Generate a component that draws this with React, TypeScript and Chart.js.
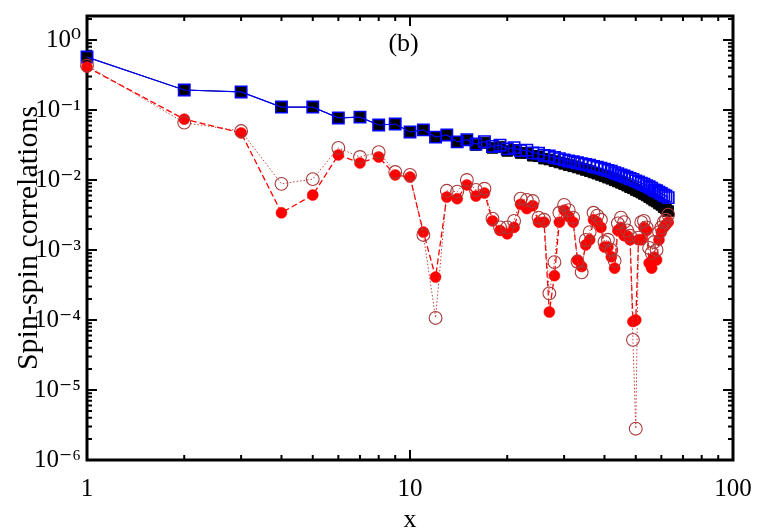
import React, { useEffect, useRef } from 'react';
import { Chart, registerables } from 'chart.js';

Chart.register(...registerables);

// distance x
const X = [1, 2, 3, 4, 5, 6, 7, 8, 9, 10, 11, 12, 13, 14, 15, 16, 17, 18, 19, 20,
  21, 22, 23, 24, 25, 26, 27, 28, 29, 30, 31, 32, 33, 34, 35, 36, 37, 38, 39, 40,
  41, 42, 43, 44, 45, 46, 47, 48, 49, 50, 51, 52, 53, 54, 55, 56, 57, 58, 59, 60,
  61, 62, 63];

// open blue squares
const BLUE_OPEN = [0.57, 0.193, 0.181, 0.110, 0.110, 0.077, 0.079, 0.061, 0.063, 0.0485,
  0.052, 0.041, 0.044, 0.035, 0.0376, 0.0326, 0.0352, 0.0301, 0.0314, 0.0278,
  0.0290, 0.0263, 0.0267, 0.0244, 0.0241, 0.0224, 0.0220, 0.0209, 0.0202, 0.0194,
  0.0187, 0.0182, 0.0176, 0.0171, 0.0167, 0.0162, 0.0156, 0.0152, 0.0147, 0.0142,
  0.0137, 0.0133, 0.0127, 0.0123, 0.0118, 0.0114, 0.0110, 0.0105, 0.0102, 0.0097,
  0.0094, 0.0090, 0.0087, 0.0083, 0.0080, 0.0076, 0.0072, 0.0070, 0.0067, 0.0064,
  0.0061, 0.0059, 0.0056];

// filled black squares
const BLACK_FILLED = [0.57, 0.193, 0.181, 0.110, 0.110, 0.077, 0.079, 0.061, 0.063, 0.0485,
  0.052, 0.041, 0.044, 0.035, 0.037, 0.0316, 0.0338, 0.0287, 0.0296, 0.026,
  0.027, 0.0243, 0.0245, 0.0222, 0.0218, 0.0202, 0.0196, 0.0186, 0.0178, 0.0170,
  0.0163, 0.0157, 0.0151, 0.0145, 0.0139, 0.0134, 0.0128, 0.0123, 0.0118, 0.0113,
  0.0108, 0.0104, 0.0099, 0.0095, 0.0091, 0.0087, 0.0083, 0.0079, 0.0076, 0.0072,
  0.0069, 0.0066, 0.0063, 0.0060, 0.0057, 0.0054, 0.0051, 0.0049, 0.0046, 0.0044,
  0.0041, 0.0039, 0.0036];

// filled red circles
const RED_FILLED = [0.41, 0.074, 0.047, 0.0034, 0.0061, 0.0228, 0.0175, 0.0213, 0.0118, 0.0110,
  0.0018, 0.00041, 0.0057, 0.0054, 0.0085, 0.0059, 0.0065, 0.0026, 0.0019, 0.0017,
  0.0021, 0.0045, 0.0039, 0.0043, 0.0025, 0.0025, 0.00013, 0.00043, 0.0025, 0.0037,
  0.0030, 0.0025, 0.00072, 0.00058, 0.00118, 0.0014, 0.0027, 0.0025, 0.0021, 0.0011,
  0.0011, 0.0008, 0.00055, 0.0019, 0.0021, 0.0016, 0.0016, 0.0014, 0.000095, 0.00010,
  0.0014, 0.0014, 0.0021, 0.0019, 0.00065, 0.00055, 0.00079, 0.00072, 0.0014, 0.0018,
  0.0021, 0.0023, 0.0025];

// open red circles
const RED_OPEN = [0.43, 0.066, 0.050, 0.0088, 0.0103, 0.0287, 0.0213, 0.025, 0.0130, 0.0118,
  0.00164, 0.000107, 0.0070, 0.0068, 0.010, 0.0072, 0.0075, 0.0028, 0.0021, 0.0021,
  0.0026, 0.0054, 0.0052, 0.0050, 0.0029, 0.0027, 0.00024, 0.00067, 0.0034, 0.0044,
  0.0037, 0.0029, 0.00068, 0.00048, 0.00139, 0.0018, 0.0034, 0.0031, 0.0027, 0.0013,
  0.0014, 0.0010, 0.0007, 0.0024, 0.0029, 0.0025, 0.0019, 0.0016, 0.000052, 0.0000028,
  0.0015, 0.0025, 0.0026, 0.0021, 0.00107, 0.00091, 0.0013, 0.0010, 0.0018, 0.0021,
  0.0025, 0.0027, 0.0032];

const X_TICK_VALUES = [1, 10, 100];
const X_TICK_LABELS = ['1', '10', '100'];
const Y_TICK_VALUES = [1e-6, 1e-5, 1e-4, 1e-3, 1e-2, 1e-1, 1];
const Y_TICK_LABELS = ['10⁻⁶', '10⁻⁵', '10⁻⁴', '10⁻³', '10⁻²', '10⁻¹', '10⁰'];

const X_MIN = 1;
const X_MAX = 100;
const Y_MIN = 1e-6;
const Y_MAX = 2.2;

const FONT = '"Liberation Serif", "Times New Roman", "DejaVu Serif", serif';

function matchLabel(v: number, values: number[], labels: string[]): string {
  for (let i = 0; i < values.length; i++) {
    if (Math.abs(v - values[i]) / values[i] < 1e-6) return labels[i];
  }
  return '';
}

const frameTicksPlugin = {
  id: 'frameTicks',
  beforeDatasetsDraw(chart: any) {
    const { ctx, chartArea: a, scales } = chart;
    const xs = scales.x;
    const ys = scales.y;
    ctx.save();
    ctx.strokeStyle = '#000';
    ctx.lineWidth = 2;
    ctx.beginPath();
    for (let d = 1; d < X_MAX; d *= 10) {
      for (let m = 1; m < 10; m++) {
        const v = d * m;
        if (v <= X_MIN || v >= X_MAX) continue;
        const px = xs.getPixelForValue(v);
        const len = m === 1 ? 10 : 5;
        ctx.moveTo(px, a.bottom);
        ctx.lineTo(px, a.bottom - len);
        ctx.moveTo(px, a.top);
        ctx.lineTo(px, a.top + len);
      }
    }
    for (let e = -6; e <= 0; e++) {
      for (let m = 1; m < 10; m++) {
        const v = m * Math.pow(10, e);
        if (v <= Y_MIN * 1.0000001 || v >= Y_MAX) continue;
        const py = ys.getPixelForValue(v);
        const len = m === 1 ? 10 : 5;
        ctx.moveTo(a.left, py);
        ctx.lineTo(a.left + len, py);
        ctx.moveTo(a.right, py);
        ctx.lineTo(a.right - len, py);
      }
    }
    ctx.stroke();
    ctx.lineWidth = 3;
    ctx.strokeRect(a.left, a.top, a.right - a.left, a.bottom - a.top);
    ctx.fillStyle = '#000';
    ctx.font = `26px ${FONT}`;
    ctx.textAlign = 'center';
    ctx.textBaseline = 'middle';
    ctx.fillText('(b)', a.left + (a.right - a.left) * 0.49, a.top + 28);
    ctx.restore();
  },
};

export default function App() {
  const canvasRef = useRef<HTMLCanvasElement | null>(null);

  useEffect(() => {
    const canvas = canvasRef.current;
    if (!canvas) return;
    const pts = (arr: number[]) => X.map((x, i) => ({ x, y: arr[i] }));
    const chart = new Chart(canvas, {
      type: 'line',
      data: {
        datasets: [
          {
            label: 'black filled',
            data: pts(BLACK_FILLED),
            borderColor: '#000000',
            borderWidth: 1,
            pointStyle: 'rect',
            pointRadius: 7.5,
            pointBackgroundColor: '#000000',
            pointBorderColor: '#000000',
            pointBorderWidth: 1,
            tension: 0,
            fill: false,
            clip: false,
            order: 4,
          } as any,
          {
            label: 'blue open',
            data: pts(BLUE_OPEN),
            borderColor: '#0000ff',
            borderWidth: 1.2,
            pointStyle: 'rect',
            pointRadius: 8,
            pointBackgroundColor: 'rgba(0,0,0,0)',
            pointBorderColor: '#0000ff',
            pointBorderWidth: 1.6,
            tension: 0,
            fill: false,
            clip: false,
            order: 3,
          } as any,
          {
            label: 'red filled',
            data: pts(RED_FILLED),
            borderColor: '#ff0000',
            borderWidth: 1.3,
            borderDash: [6, 3],
            pointStyle: 'circle',
            pointRadius: 5.5,
            pointBackgroundColor: '#ff0000',
            pointBorderColor: '#ff0000',
            pointBorderWidth: 0.5,
            tension: 0,
            fill: false,
            clip: false,
            order: 2,
          } as any,
          {
            label: 'red open',
            data: pts(RED_OPEN),
            borderColor: '#c04040',
            borderWidth: 1,
            borderDash: [1.5, 2],
            pointStyle: 'circle',
            pointRadius: 6.4,
            pointBackgroundColor: 'rgba(0,0,0,0)',
            pointBorderColor: '#a83a3a',
            pointBorderWidth: 1.1,
            tension: 0,
            fill: false,
            clip: false,
            order: 1,
          } as any,
        ],
      },
      options: {
        responsive: false,
        devicePixelRatio: 1,
        animation: false,
        events: [],
        layout: { padding: { top: 16, right: 24, left: 0, bottom: 0 } },
        plugins: {
          legend: { display: false },
          tooltip: { enabled: false },
          title: { display: false },
        },
        scales: {
          x: {
            type: 'logarithmic',
            min: X_MIN,
            max: X_MAX,
            grid: { display: false, drawTicks: false },
            border: { display: false },
            ticks: {
              autoSkip: false,
              maxRotation: 0,
              padding: 14,
              color: '#000',
              font: { family: FONT, size: 25 },
              callback: (v: any) => matchLabel(Number(v), X_TICK_VALUES, X_TICK_LABELS),
            },
            title: {
              display: true,
              text: 'x',
              color: '#000',
              font: { family: FONT, size: 26, lineHeight: 0.9 },
              padding: { top: 0, bottom: 0 },
            },
            afterFit: (scale: any) => {
              scale.height = 72;
              scale.paddingLeft = 0;
              scale.paddingRight = 0;
            },
          },
          y: {
            type: 'logarithmic',
            min: Y_MIN,
            max: Y_MAX,
            grid: { display: false, drawTicks: false },
            border: { display: false },
            ticks: {
              autoSkip: false,
              padding: 6,
              color: '#000',
              font: { family: FONT, size: 25 },
              callback: (v: any) => matchLabel(Number(v), Y_TICK_VALUES, Y_TICK_LABELS),
            },
            title: {
              display: true,
              text: 'Spin-spin correlations',
              color: '#000',
              font: { family: FONT, size: 30 },
              padding: { top: 11, bottom: 0 },
            },
            afterFit: (scale: any) => {
              scale.width = 87;
              scale.paddingTop = 0;
              scale.paddingBottom = 0;
            },
          },
        },
      },
      plugins: [frameTicksPlugin],
    });
    return () => chart.destroy();
  }, []);

  return (
    <div style={{ position: 'fixed', left: 0, top: 0, width: 757, height: 532, background: '#fff' }}>
      <canvas ref={canvasRef} width={757} height={532} style={{ display: 'block', width: 757, height: 532 }} />
    </div>
  );
}
